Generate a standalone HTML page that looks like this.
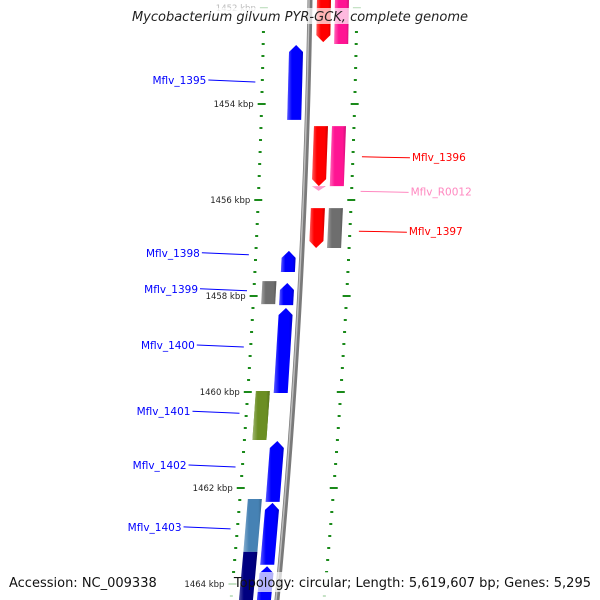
<!DOCTYPE html>
<html><head><meta charset="utf-8"><style>
html,body{margin:0;padding:0;background:#fff}
svg{display:block;font-family:"DejaVu Sans","Liberation Sans",sans-serif}
</style></head><body>
<svg id="map" width="600" height="600" viewBox="0 0 600 600" xmlns="http://www.w3.org/2000/svg">
<defs>
<linearGradient id="shade" x1="0" x2="1" y1="0" y2="0">
<stop offset="0" stop-color="#fff" stop-opacity="0.35"/>
<stop offset="0.3" stop-color="#fff" stop-opacity="0"/>
<stop offset="0.8" stop-color="#000" stop-opacity="0"/>
<stop offset="1" stop-color="#000" stop-opacity="0.2"/>
</linearGradient>
</defs>
<g id="ticks"></g>
<g id="backbone-g"></g>
<g id="genes"></g>
<g id="labels"></g>
<rect x="120" y="8" width="364" height="16" fill="#fff" fill-opacity="0.7"/>
<text x="300" y="21" text-anchor="middle" font-size="13" font-style="italic" fill="#222">Mycobacterium gilvum PYR-GCK, complete genome</text>
<rect x="4" y="572" width="146" height="20" fill="#fff" fill-opacity="0.7"/>
<text x="9" y="587" font-size="13" fill="#111">Accession: NC_009338</text>
<rect x="256" y="572" width="340" height="20" fill="#fff" fill-opacity="0.7"/>
<text x="591" y="587" text-anchor="end" font-size="13" fill="#111">Topology: circular; Length: 5,619,607 bp; Genes: 5,295</text>
</svg>
<script>
const tickKbp = [1452,1454,1456,1458,1460,1462,1464];
const tickLabels = ["1452 kbp","1454 kbp","1456 kbp","1458 kbp","1460 kbp","1462 kbp","1464 kbp"];
const geneNames = ["Mflv_1395","g_a","Mflv_1398","Mflv_1399","Mflv_1400","Mflv_1401","Mflv_1402","Mflv_1403","g_b","g_c","g_d","g_e","g_f","Mflv_1396","g_g","Mflv_1397","g_h","g_i","Mflv_R0012"];
const geneStart = [1452.77,1463.63,1457.06,1457.73,1458.25,1460.04,1461.02,1462.31,1457.69,1459.98,1462.23,1463.33,1451.6,1454.46,1451.6,1456.17,1454.46,1456.17,1455.71];
const geneEnd   = [1454.33,1464.55,1457.50,1458.19,1460.02,1461.00,1462.29,1463.60,1458.17,1460.96,1463.33,1464.55,1452.71,1455.71,1452.75,1457.00,1455.71,1457.00,1455.81];
const geneTrack = [-1,-1,-1,-1,-1,-2,-1,-1,-2,-2,-2,-2,1,1,2,1,2,2,1];
const geneStrand= [1,1,1,1,1,0,1,1,0,0,0,0,-1,-1,0,-1,0,0,-1];
const geneColor = ["#0000ff","#0000ff","#0000ff","#0000ff","#0000ff","#6b8e23","#0000ff","#0000ff","#6e6e6e","#6b8e23","#4682b4","#000080","#ff0000","#ff0000","#ff1493","#ff0000","#ff1493","#6e6e6e","#ff99cc"];
const labelText = ["Mflv_1395","Mflv_1398","Mflv_1399","Mflv_1400","Mflv_1401","Mflv_1402","Mflv_1403","Mflv_1396","Mflv_R0012","Mflv_1397"];
const labelKbp  = [1453.5,1457.10,1457.85,1459.02,1460.40,1461.52,1462.81,1455.1,1455.82,1456.65];
const labelSide = [-1,-1,-1,-1,-1,-1,-1,1,1,1];
const labelColor= ["#0000ff","#0000ff","#0000ff","#0000ff","#0000ff","#0000ff","#0000ff","#ff0000","#ff88c0","#ff0000"];
const NS="http://www.w3.org/2000/svg";
function yOf(k){return 8+(k-1452)*48;}
function bx(y){return 310-0.0156*y-0.0000657*y*y;}
function mk(t,a,p){const e=document.createElementNS(NS,t);for(const k in a)e.setAttribute(k,a[k]);p.appendChild(e);return e;}
const gT=document.getElementById('ticks');
for(let k=1451.75;k<=1464.6;k+=0.25){
  const y=yOf(k); if(y<-2||y>602) continue;
  const major=Math.abs(k-Math.round(k))<1e-6 && Math.round(k)%2===0;
  const w=major?8:3;
  const fade=(y<30||y>575)?0.25:1;
  for(const off of [-46,47]){
    const x=bx(y)+off;
    const t=mk('rect',{x:x-w/2,y:y-1,width:w,height:2,fill:'#1a8a1a','fill-opacity':fade},gT);
    
    
  }
}
tickKbp.forEach((k,i)=>{
  const y=yOf(k);
  const t=mk('text',{x:bx(y)-46-8,y:y+3,'text-anchor':'end','font-size':'8.5',fill:y<20?'#bbb':'#222'},gT);
  t.textContent=tickLabels[i];
  
  
});
const gB=document.getElementById('backbone-g');
let pts=[];for(let y=-5;y<=605;y+=10)pts.push([bx(y),y]);
const bb=mk('polyline',{points:pts.map(p=>p.join(',')).join(' '),fill:'none',stroke:'#7a7a7a','stroke-width':5},gB);


mk('polyline',{points:pts.map(p=>(p[0]-1)+','+p[1]).join(' '),fill:'none',stroke:'#bdbdbd','stroke-width':1.5},gB);
const gG=document.getElementById('genes');
const trackOff={'-1':[-20,-6],'-2':[-38,-24],'1':[7,21],'2':[25,39]};
geneNames.forEach((n,i)=>{
  const y1=yOf(geneStart[i]),y2=yOf(geneEnd[i]);
  const [o1,o2]=trackOff[geneTrack[i]];
  const s=geneStrand[i];let p;
  const P=(o,y)=>[bx(y)+o,y];
  if(n==='Mflv_R0012'){
    const m=(o1+o2)/2;p=[P(o1,y1),P(o2,y1),P(m,y2)];
  }else if(s===1){
    const h=Math.min(7,(y2-y1)/2);const m=(o1+o2)/2;
    p=[P(m,y1),P(o2,y1+h),P(o2,y2),P(o1,y2),P(o1,y1+h)];
  }else if(s===-1){
    const h=Math.min(7,(y2-y1)/2);const m=(o1+o2)/2;
    p=[P(o1,y1),P(o2,y1),P(o2,y2-h),P(m,y2),P(o1,y2-h)];
  }else{p=[P(o1,y1),P(o2,y1),P(o2,y2),P(o1,y2)];}
  const ps=p.map(q=>q.join(',')).join(' ');
  const g=mk('g',{},gG);
  
  
  mk('polygon',{points:ps,fill:geneColor[i]},g);
  mk('polygon',{points:ps,fill:'url(#shade)'},g);
});
const gL=document.getElementById('labels');
labelText.forEach((t,i)=>{
  const y=yOf(labelKbp[i]);const s=labelSide[i];
  let x1,x2,tx;
  if(s<0){x2=bx(y)-53;x1=x2-47;tx=x1-2;}else{x1=bx(y)+56;x2=x1+48;tx=x2+2;}
  const ln=mk('line',{x1:x1,y1:y,x2:x2,y2:s<0?y+2:y+1,stroke:labelColor[i],'stroke-width':1},gL);
  
  
  const tx_=mk('text',{x:tx,y:y+4,'text-anchor':s<0?'end':'start','font-size':'10.5',fill:labelColor[i]},gL);
  tx_.textContent=t;
  
  
});
</script>
</body></html>
